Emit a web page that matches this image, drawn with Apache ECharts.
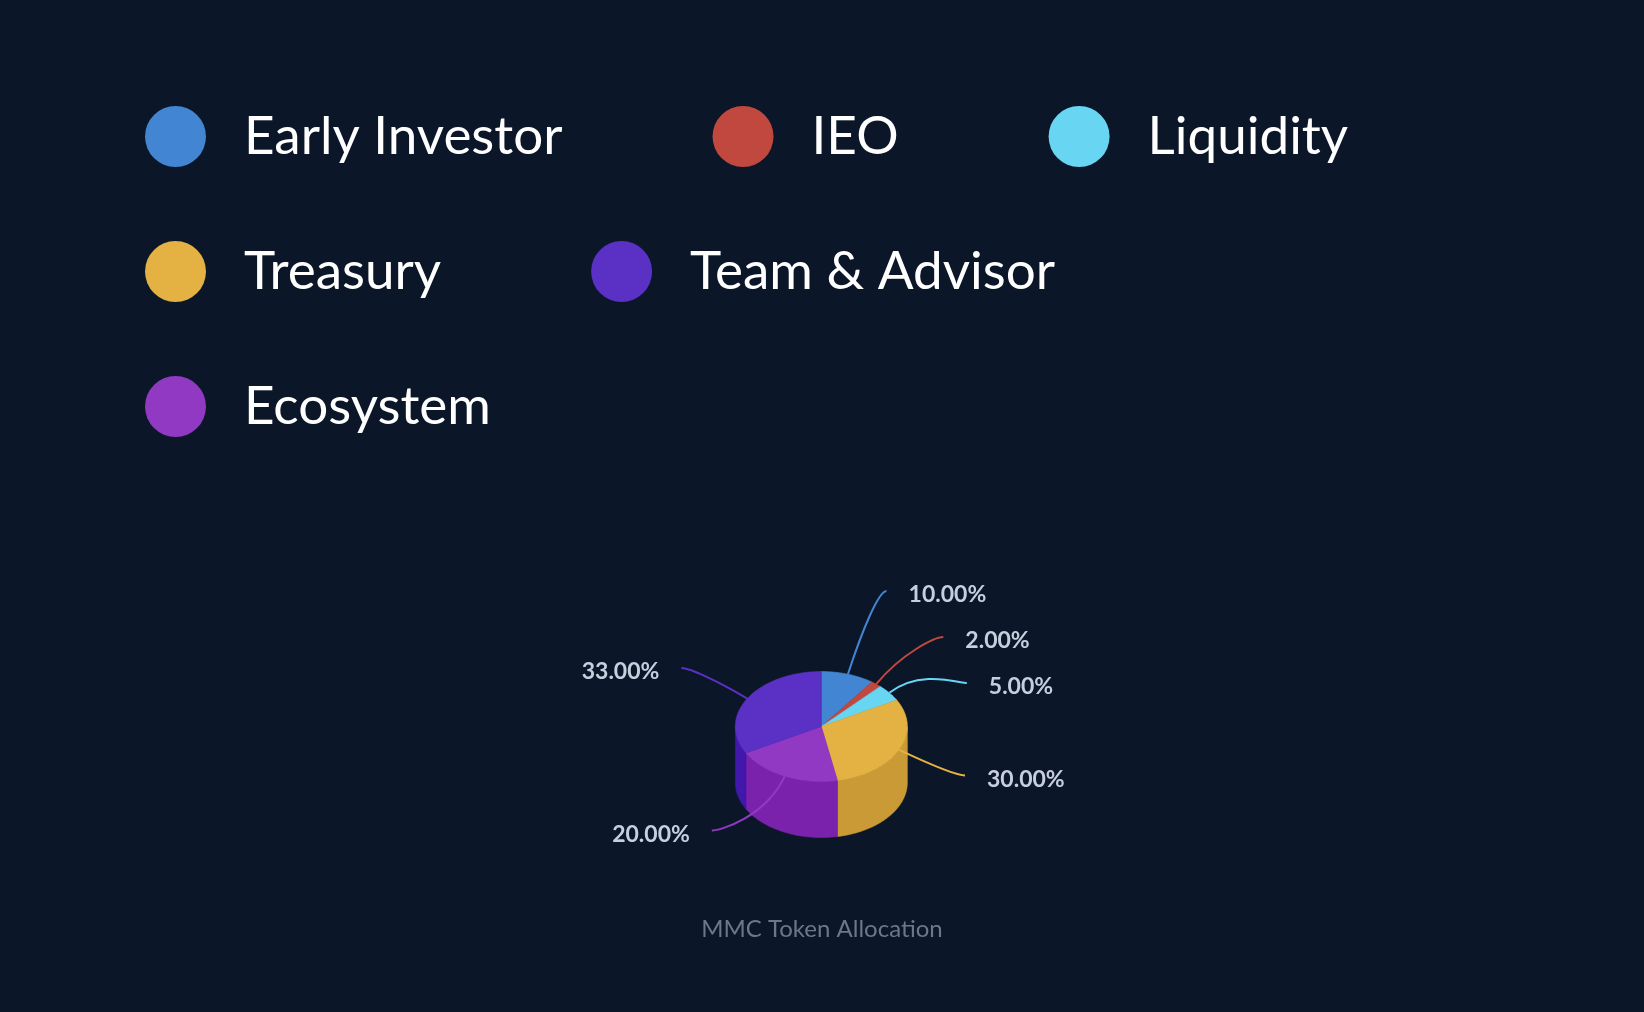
<!DOCTYPE html>
<html><head><meta charset="utf-8">
<style>html,body{margin:0;padding:0;background:#0b1629;}#main{width:1644px;height:1012px;}</style>
<script src="https://cdn.jsdelivr.net/npm/echarts@6/dist/echarts.min.js"></script>
</head><body><div id="main"></div>
<script>
// Pie order (clockwise from 12 o'clock)
const categories = ['Early Investor', 'IEO', 'Liquidity', 'Treasury', 'Ecosystem', 'Team & Advisor'];
const shares = [10, 2, 5, 30, 20, 33];
const legendOrder = ['Early Investor', 'IEO', 'Liquidity', 'Treasury', 'Team & Advisor', 'Ecosystem'];
const colors = ['#4286d3', '#c1483f', '#68d5f2', '#e3b243', '#9239c4', '#5a31c4'];
const sideColors = ['#2a6dba', '#a82f26', '#4fbcd9', '#c99a35', '#7a22ab', '#4118ab'];
const titleText = 'MMC Token Allocation';

const total = shares.reduce((a, b) => a + b, 0);
const starts = [], ends = [];
let acc = 0;
shares.forEach(v => { starts.push(acc / total * Math.PI * 2); acc += v; ends.push(acc / total * Math.PI * 2); });

const G = { cx: 0.4996, cy: 0.7179, rx: 86, ry: 55, h: 56, la: 152, lb: 115, lB: 150, gap: 46 };

function layoutLabels() {
  const items = shares.map((v, i) => {
    const mid = (starts[i] + ends[i]) / 2;
    return { i, mid, side: Math.sin(mid) >= 0 ? 1 : -1, y0: -G.lb * Math.cos(mid) };
  });
  [1, -1].forEach(side => {
    const list = items.filter(d => d.side === side).sort((a, b) => a.y0 - b.y0);
    const clusters = list.map(d => ({ m: [d] }));
    const place = c => { const mean = c.m.reduce((s, d) => s + d.y0, 0) / c.m.length; c.top = mean - (c.m.length - 1) * G.gap / 2; };
    clusters.forEach(place);
    let changed = true;
    while (changed) {
      changed = false;
      for (let k = 0; k < clusters.length - 1; k++) {
        const a = clusters[k], b = clusters[k + 1];
        const aEnd = a.top + (a.m.length - 1) * G.gap;
        if (b.top - aEnd < G.gap) { a.m = a.m.concat(b.m); place(a); clusters.splice(k + 1, 1); changed = true; break; }
      }
    }
    clusters.forEach(c => c.m.forEach((d, j) => { d.y = c.top + j * G.gap; }));
  });
  items.forEach(d => { d.x = d.side * G.la * Math.sqrt(Math.max(0, 1 - (d.y / G.lB) ** 2)); });
  return items;
}
const labelLayout = layoutLabels();

function makeRender(i) {
  return function (params, api) {
    const W = api.getWidth(), H = api.getHeight();
    const cx = W * G.cx, cy = H * G.cy;
    const P = (t, dz) => [cx + G.rx * Math.sin(t), cy - G.ry * Math.cos(t) + (dz || 0)];
    const arc = (a, b, dz) => {
      const n = Math.max(2, Math.ceil((b - a) / (Math.PI / 180)));
      const pts = [];
      for (let k = 0; k <= n; k++) pts.push(P(a + (b - a) * k / n, dz));
      return pts;
    };
    const value = api.value(0);
    const children = [];
    const a = Math.max(starts[i], Math.PI / 2), b = Math.min(ends[i], Math.PI * 1.5);
    if (b > a) {
      const top = arc(a, b, 0), bot = arc(a, b, G.h).reverse();
      children.push({ type: 'polygon', shape: { points: top.concat(bot) }, style: { fill: sideColors[i], stroke: sideColors[i], lineWidth: 0.6 }, z2: 1 });
    }
    children.push({ type: 'polygon', shape: { points: [[cx, cy]].concat(arc(starts[i], ends[i], 0)) }, style: { fill: colors[i], stroke: colors[i], lineWidth: 0.6, lineJoin: 'round' }, z2: 2 });
    const L = labelLayout[i];
    const mid = L.mid;
    const S = P(mid, 0);
    const dx = Math.sin(mid), dy = -Math.cos(mid);
    const E = [cx + L.x, cy + L.y];
    const dist = Math.hypot(E[0] - S[0], E[1] - S[1]);
    children.push({ type: 'bezierCurve', shape: { x1: S[0], y1: S[1], cpx1: S[0] + dx * dist * 0.5, cpy1: S[1] + dy * dist * 0.5, cpx2: E[0] - L.side * 8, cpy2: E[1], x2: E[0], y2: E[1] }, style: { stroke: colors[i], lineWidth: 2, fill: null }, z2: 3 });
    children.push({ type: 'text', x: E[0] + L.side * 22, y: E[1] + 4, style: { text: (value / total * 100).toFixed(2) + '%', fill: '#c6cfdd', font: 'bold 23px Lato', align: L.side > 0 ? 'left' : 'right', verticalAlign: 'middle' }, z2: 4 });
    return { type: 'group', children };
  };
}

const chart = echarts.init(document.getElementById('main'));
chart.setOption({
  backgroundColor: '#0b1629',
  animation: false,
  title: { text: titleText, left: 'center', top: 917, padding: 0, textStyle: { color: '#6b778a', fontSize: 24, fontWeight: 'normal', fontFamily: 'Lato' } },
  legend: {
    data: legendOrder, left: 145, top: 106, width: 1380, padding: 0,
    itemWidth: 61, itemHeight: 61, itemGap: 74, icon: 'circle',
    textStyle: { color: '#ffffff', fontSize: 53, fontFamily: 'Lato', lineHeight: 57, padding: [4, 76, 0, 33] }
  },
  series: categories.map((name, i) => ({
    type: 'custom', name, coordinateSystem: 'none',
    itemStyle: { color: colors[i] },
    data: [shares[i]],
    renderItem: makeRender(i)
  }))
});
</script></body></html>
